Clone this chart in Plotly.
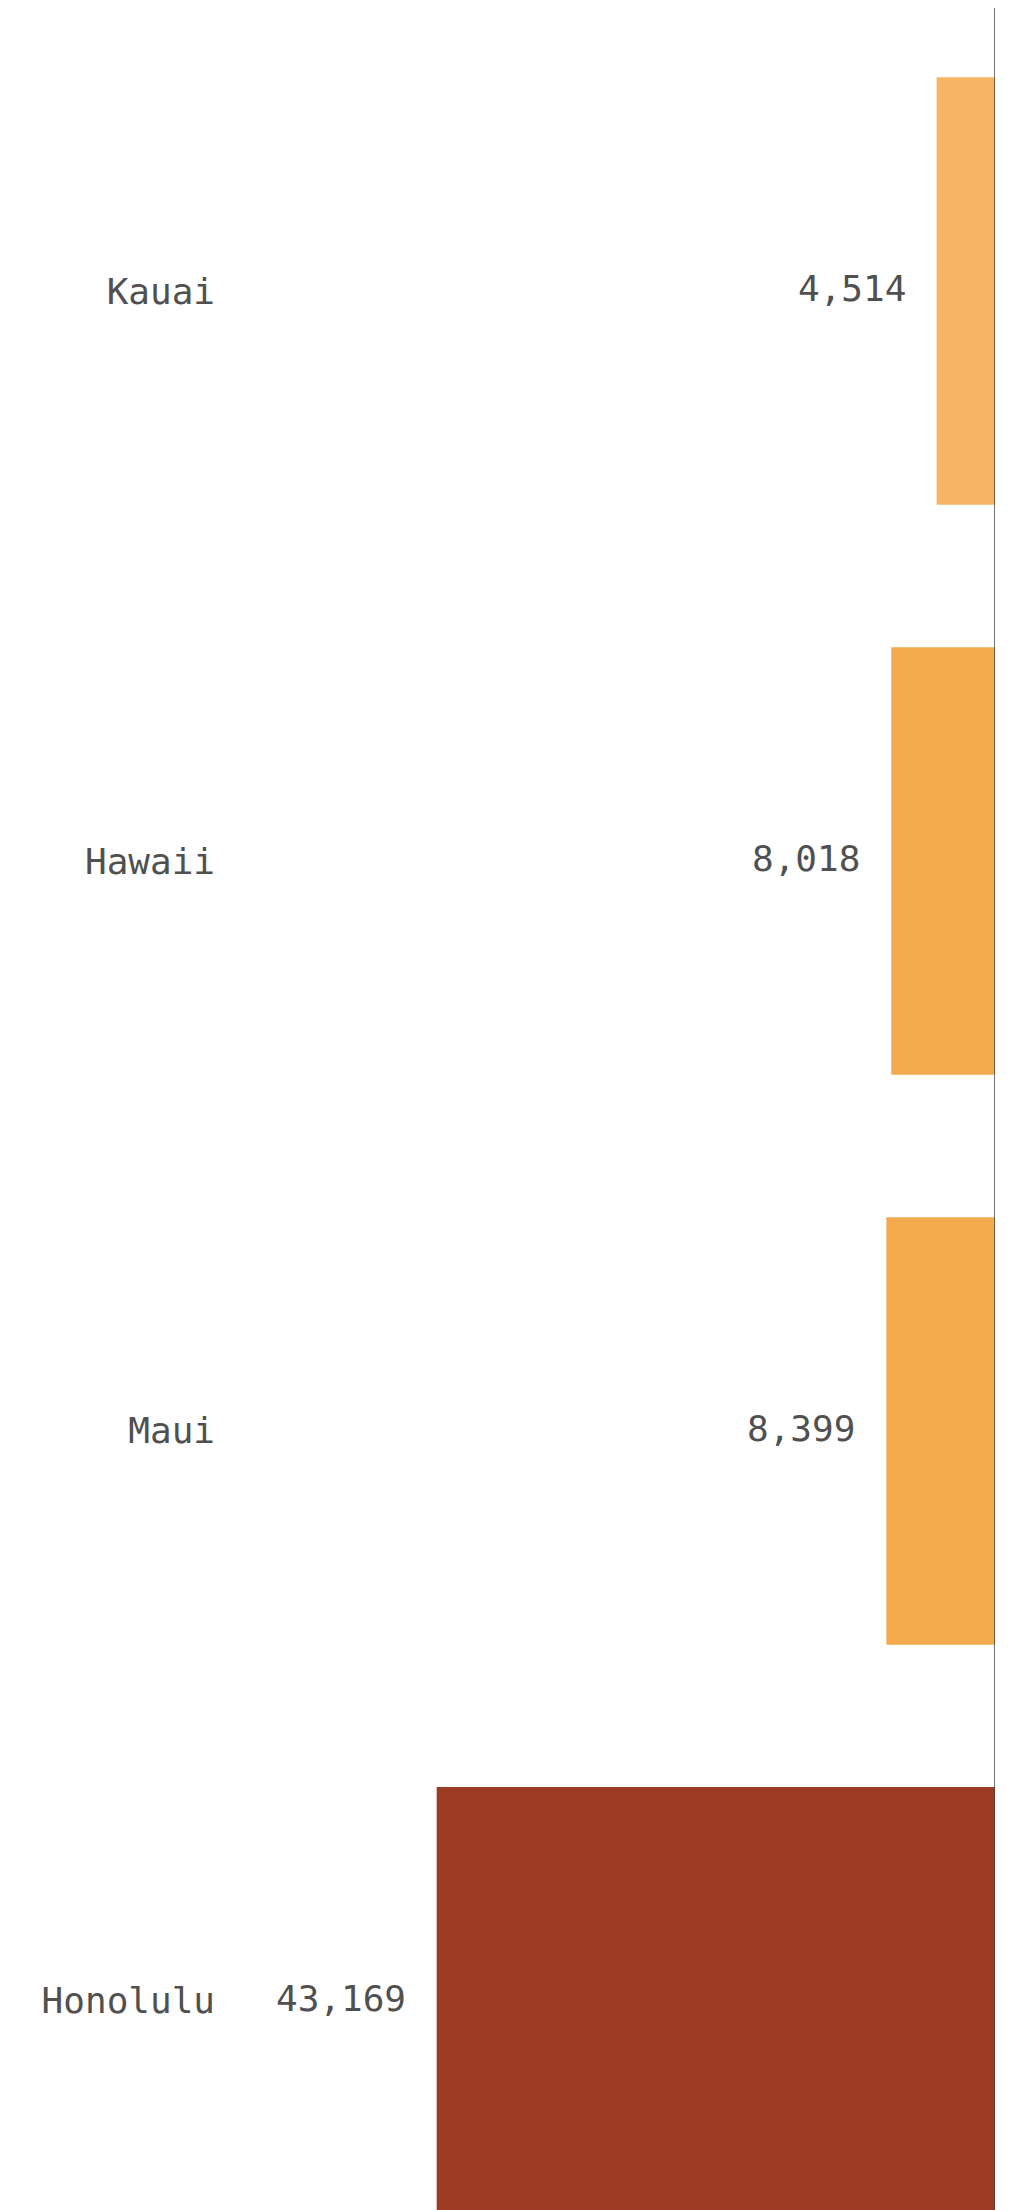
import plotly.graph_objects as go

islands = ['Kauai', 'Hawaii', 'Maui', 'Honolulu']
counts = [4514, 8018, 8399, 43169]
bar_colors = ['#F8B464', '#F3AA4C', '#F3AA4C', '#9D3C24']

x_max = 60000
font_mono = 'DejaVu Sans Mono'
text_color = '#505050'

fig = go.Figure()

fig.add_trace(go.Bar(
    x=counts,
    y=islands,
    orientation='h',
    marker=dict(color=bar_colors, line=dict(width=0)),
    hoverinfo='skip',
))

# value labels sit just left of each bar end
for i_island, i_count in zip(islands, counts):
    fig.add_annotation(
        x=i_count, y=i_island,
        text=f'{i_count:,}',
        showarrow=False,
        xanchor='right',
        xshift=-29,
        yshift=2,
        font=dict(family=font_mono, size=36, color=text_color),
    )

# zero line on the right edge
fig.add_shape(type='line', xref='x', yref='paper', x0=0, x1=0, y0=0, y1=1,
              line=dict(color='#444444', width=1.5), layer='above')

# page body keeps its default 8px margin, so the margins here are offset by it
fig.update_layout(
    width=1021,
    height=2210,
    margin=dict(l=211, r=34, t=0, b=0),
    paper_bgcolor='white',
    plot_bgcolor='white',
    bargap=0.25,
    showlegend=False,
    xaxis=dict(range=[x_max, 0], showticklabels=False, showgrid=False,
               zeroline=False, showline=False),
    yaxis=dict(categoryorder='array', categoryarray=islands,
               range=[3.381, -0.4965], showgrid=False, zeroline=False,
               ticks='', ticklabelstandoff=3,
               tickfont=dict(family=font_mono, size=36, color=text_color)),
)

fig.write_html('out.html')
